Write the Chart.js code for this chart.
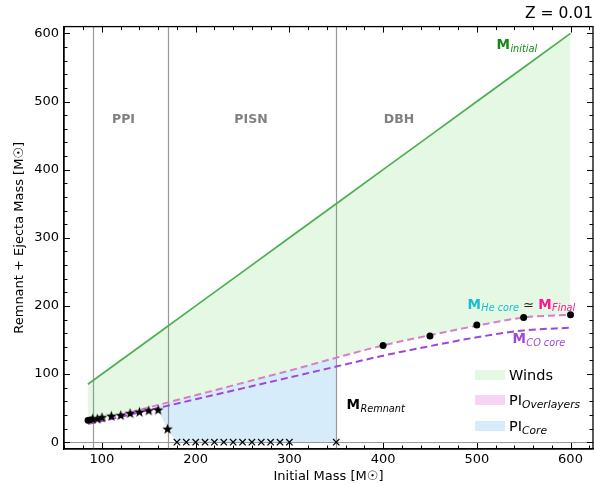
<!DOCTYPE html>
<html>
<head>
<meta charset="utf-8">
<script src="https://cdn.jsdelivr.net/npm/chart.js@4.4.1/dist/chart.umd.min.js"></script>
<style>
  html, body { margin: 0; padding: 0; background: #fff; }
</style>
</head>
<body>
<canvas id="massChart" width="594" height="484"></canvas>
<script>
// curves
const curveX      = [85, 100, 150, 200, 250, 300, 350, 400, 450, 500, 550, 600];
const initialMass = [85, 100, 150, 200, 250, 300, 350, 400, 450, 500, 550, 600];
const finalMass   = [28, 33, 51, 69, 87, 105, 124, 142, 157, 171, 183, 187];
const coCoreMass  = [27, 31, 47, 63, 79, 95, 111, 127, 141, 154, 164, 168];

// PI core region: between remnant and final mass
const coreX      = [160, 170, 180, 350];
const coreTop    = [55, 59, 62, 124];
const coreBottom = [47, 19, 0, 0];

// remnant masses
const ccX        = [85, 88];
const ccRemnant  = [32, 33];
const ppiX       = [90, 95, 100, 110, 120, 130, 140, 150, 160, 170];
const ppiRemnant = [34, 34, 36, 38, 39, 42, 44, 46, 47, 19];
const pisnX      = [180, 190, 200, 210, 220, 230, 240, 250, 260, 270, 280, 290, 300, 350];
const pisnRemnant = [0, 0, 0, 0, 0, 0, 0, 0, 0, 0, 0, 0, 0, 0];
const dbhX       = [400, 450, 500, 550, 600];
const dbhRemnant = [142, 156, 172, 183, 187];

// regions
const regionBounds = [90, 170, 350];
const regionNames  = ['PPI', 'PISN', 'DBH'];
const regionLabelX = [123, 259, 417];

const FONT = '"DejaVu Sans", sans-serif';
const WINDS = 'rgb(228,248,228)';
const OVERLAY = 'rgb(247,212,245)';
const CORE = 'rgb(214,236,250)';

const pts = (xs, ys) => xs.map((x, i) => ({ x: x, y: ys[i] }));

// filled five point star for the PPI remnants
function starImage(r) {
    const c = document.createElement('canvas');
    const s = Math.ceil(r * 2 + 2);
    c.width = s; c.height = s;
    const g = c.getContext('2d');
    g.fillStyle = '#000';
    g.beginPath();
    for (let i = 0; i < 10; i++) {
        const rr = i % 2 === 0 ? r : r * 0.42;
        const a = -Math.PI / 2 + i * Math.PI / 5;
        g.lineTo(s / 2 + rr * Math.cos(a), s / 2 + rr * Math.sin(a));
    }
    g.closePath();
    g.fill();
    return c;
}

// M + italic subscript, returns end x
function mText(ctx, x, y, sub, color, size) {
    ctx.fillStyle = color;
    ctx.font = 'bold ' + size + 'px ' + FONT;
    ctx.fillText('M', x, y);
    const w = ctx.measureText('M').width;
    ctx.font = 'italic ' + (size * 0.72) + 'px ' + FONT;
    ctx.fillText(sub, x + w + 0.5, y + size * 0.2);
    return x + w + 0.5 + ctx.measureText(sub).width;
}

const decor = {
    id: 'decor',
    beforeDatasetsDraw(chart) {
        const { ctx, chartArea: a, scales: { x, y } } = chart;
        ctx.save();
        ctx.strokeStyle = 'rgba(128,128,128,0.8)';
        ctx.lineWidth = 1.2;
        ctx.beginPath();
        regionBounds.forEach(v => {
            const px = Math.round(x.getPixelForValue(v)) + 0.5;
            ctx.moveTo(px, a.top); ctx.lineTo(px, a.bottom);
        });
        const y0 = Math.round(y.getPixelForValue(0)) + 0.5;
        ctx.moveTo(a.left, y0); ctx.lineTo(a.right, y0);
        ctx.stroke();
        ctx.restore();
    },
    afterDraw(chart) {
        const { ctx, chartArea: a, scales: { x, y } } = chart;
        ctx.save();
        ctx.textBaseline = 'alphabetic';
        ctx.textAlign = 'center';

        // region names
        ctx.fillStyle = 'rgb(128,128,128)';
        ctx.font = 'bold 12.5px ' + FONT;
        regionNames.forEach((n, i) => ctx.fillText(n, x.getPixelForValue(regionLabelX[i]), y.getPixelForValue(469)));

        ctx.textAlign = 'left';
        mText(ctx, x.getPixelForValue(521), y.getPixelForValue(577), 'initial', 'rgb(20,135,20)', 13.5);
        let ex = mText(ctx, x.getPixelForValue(490), y.getPixelForValue(196), 'He core', 'rgb(23,190,207)', 13.5);
        ctx.fillStyle = '#222';
        ctx.font = '13px ' + FONT;
        ctx.fillText(' \u2243 ', ex, y.getPixelForValue(196));
        ex += ctx.measureText(' \u2243 ').width;
        mText(ctx, ex, y.getPixelForValue(196), 'Final', 'rgb(255,20,147)', 13.5);
        mText(ctx, x.getPixelForValue(538), y.getPixelForValue(145), 'CO core', 'rgb(160,70,210)', 13.5);
        mText(ctx, x.getPixelForValue(361), y.getPixelForValue(49), 'Remnant', '#000', 13.5);

        // legend
        const lx = a.right - 118;
        const rows = [[a.bottom - 74, WINDS, 'Winds', ''], [a.bottom - 49, OVERLAY, 'PI', 'Overlayers'], [a.bottom - 23, CORE, 'PI', 'Core']];
        rows.forEach(r => {
            ctx.fillStyle = r[1];
            ctx.fillRect(lx, r[0] - 5, 30, 10);
            ctx.fillStyle = '#000';
            ctx.font = '14.5px ' + FONT;
            ctx.fillText(r[2], lx + 34, r[0] + 5);
            if (r[3]) {
                const w = ctx.measureText(r[2]).width;
                ctx.font = 'italic 10.7px ' + FONT;
                ctx.fillText(r[3], lx + 34 + w, r[0] + 8);
            }
        });

        // frame and inward ticks on all sides
        ctx.strokeStyle = '#000';
        ctx.lineWidth = 1.3;
        ctx.strokeRect(a.left, a.top, a.right - a.left, a.bottom - a.top);
        ctx.lineWidth = 1;
        ctx.beginPath();
        for (let v = 60; v <= 620; v += 20) {
            const px = Math.round(x.getPixelForValue(v)) + 0.5;
            const len = v % 100 === 0 ? 6 : 3.5;
            ctx.moveTo(px, a.bottom); ctx.lineTo(px, a.bottom - len);
            ctx.moveTo(px, a.top); ctx.lineTo(px, a.top + len);
        }
        for (let v = 0; v <= 600; v += 20) {
            const py = Math.round(y.getPixelForValue(v)) + 0.5;
            const len = v % 100 === 0 ? 6 : 3.5;
            ctx.moveTo(a.left, py); ctx.lineTo(a.left + len, py);
            ctx.moveTo(a.right, py); ctx.lineTo(a.right - len, py);
        }
        ctx.stroke();
        ctx.restore();
    }
};

const ctx = document.getElementById('massChart');
new Chart(ctx, {
    type: 'line',
    data: {
        datasets: [
            {
                label: 'M initial', data: pts(curveX, initialMass),
                borderColor: 'rgb(76,175,80)', borderWidth: 1.7, pointRadius: 0, tension: 0,
                fill: { target: 1, above: WINDS, below: 'rgba(0,0,0,0)' }
            },
            {
                label: 'M Final', data: pts(curveX, finalMass),
                borderColor: 'rgb(216,126,198)', borderWidth: 2, borderDash: [7, 4],
                pointRadius: 0, cubicInterpolationMode: 'monotone', fill: false
            },
            {
                label: 'M CO core', data: pts(curveX, coCoreMass),
                borderColor: 'rgb(155,72,215)', borderWidth: 2, borderDash: [7, 4],
                pointRadius: 0, cubicInterpolationMode: 'monotone', fill: false
            },
            {
                label: 'PI Core', data: pts(coreX, coreTop),
                borderColor: 'rgba(0,0,0,0)', borderWidth: 0, pointRadius: 0, tension: 0,
                fill: { target: 4, above: CORE, below: CORE }
            },
            {
                label: 'core bottom', data: pts(coreX, coreBottom),
                borderColor: 'rgba(0,0,0,0)', borderWidth: 0, pointRadius: 0, tension: 0, fill: false
            },
            // markers sit on top of the lines
            {
                label: 'PPI remnant', data: pts(ppiX, ppiRemnant), showLine: false, order: -1,
                pointStyle: starImage(5.5), pointRadius: 5
            },
            {
                label: 'CC remnant', data: pts(ccX, ccRemnant), showLine: false, order: -1,
                pointStyle: 'circle', pointRadius: 3.3, backgroundColor: '#000', borderColor: '#000', borderWidth: 0
            },
            {
                label: 'PISN', data: pts(pisnX, pisnRemnant), showLine: false, order: -1,
                pointStyle: 'crossRot', pointRadius: 4.5, borderColor: '#000', borderWidth: 1.2
            },
            {
                label: 'DBH remnant', data: pts(dbhX, dbhRemnant), showLine: false, order: -1,
                pointStyle: 'circle', pointRadius: 3.5, backgroundColor: '#000', borderColor: '#000', borderWidth: 0
            }
        ]
    },
    options: {
        responsive: false,
        animation: false,
        devicePixelRatio: 1,
        layout: { autoPadding: false, padding: { top: 0, right: 1, left: 0, bottom: 0 } },
        plugins: {
            legend: { display: false },
            tooltip: { enabled: false },
            filler: { propagate: false, drawTime: 'beforeDatasetsDraw' },
            title: {
                display: true, text: 'Z = 0.01', align: 'end', color: '#000',
                font: { family: FONT, size: 15.5, weight: 'normal' },
                padding: { top: 5, bottom: 3 }
            }
        },
        scales: {
            x: {
                type: 'linear', min: 59.5, max: 624,
                grid: { display: false, drawTicks: false },
                border: { color: '#000', width: 1.3 },
                ticks: {
                    stepSize: 100, includeBounds: false, maxRotation: 0, padding: 3,
                    color: '#000', font: { family: FONT, size: 13 }
                },
                title: {
                    display: true, text: 'Initial Mass [M\u2609]', color: '#000',
                    font: { family: FONT, size: 13 }, padding: { top: 0, bottom: 0 }
                },
                afterFit: s => { s.height = 35; s.paddingLeft = 0; s.paddingRight = 0; }
            },
            y: {
                type: 'linear', min: -10, max: 610,
                grid: { display: false, drawTicks: false },
                border: { color: '#000', width: 1.3 },
                ticks: {
                    stepSize: 100, includeBounds: false, padding: 5,
                    color: '#000', font: { family: FONT, size: 13 }
                },
                title: {
                    display: true, text: 'Remnant + Ejecta Mass [M\u2609]', color: '#000',
                    font: { family: FONT, size: 13 }, padding: { top: 12, bottom: 0 }
                },
                afterFit: s => { s.width = 64; }
            }
        }
    },
    plugins: [decor]
});
</script>
</body>
</html>
